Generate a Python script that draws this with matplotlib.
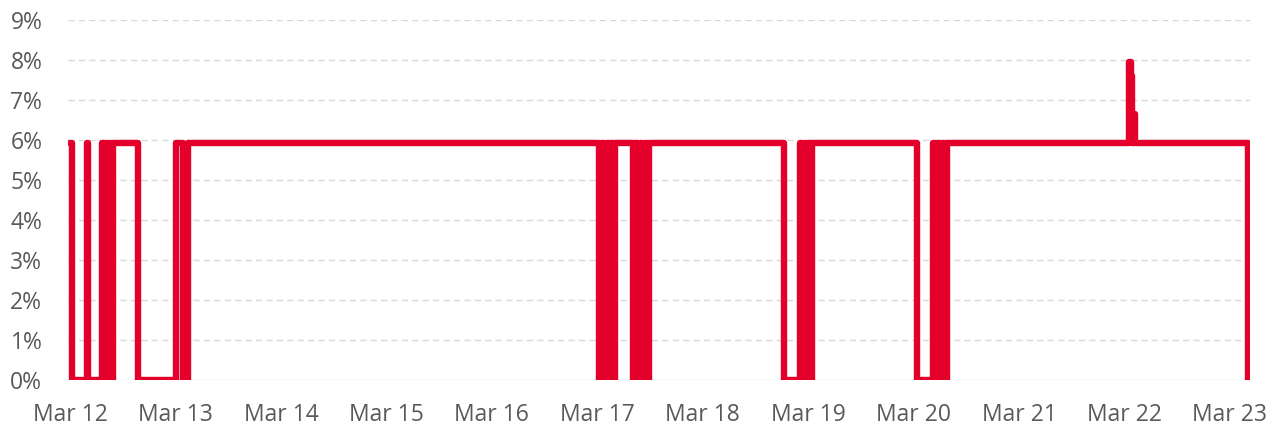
import matplotlib
matplotlib.use("Agg")
import matplotlib.pyplot as plt
import matplotlib.dates as mdates
import pandas as pd

# ---- data (step changes; value holds until next timestamp) ----
times = [
    "2023-03-12 00:00", "2023-03-12 00:27", "2023-03-12 03:52", "2023-03-12 04:00",
    "2023-03-12 07:16", "2023-03-12 07:45", "2023-03-12 08:10", "2023-03-12 08:35",
    "2023-03-12 09:00", "2023-03-12 09:20", "2023-03-12 09:45", "2023-03-12 15:29",
    "2023-03-13 00:00", "2023-03-13 01:43", "2023-03-13 02:51",
    "2023-03-17 00:24", "2023-03-17 01:00", "2023-03-17 01:30", "2023-03-17 02:05",
    "2023-03-17 02:35", "2023-03-17 03:05", "2023-03-17 03:35", "2023-03-17 04:02",
    "2023-03-17 08:08", "2023-03-17 08:40", "2023-03-17 09:15", "2023-03-17 09:45",
    "2023-03-17 10:15", "2023-03-17 10:50", "2023-03-17 11:20", "2023-03-17 11:47",
    "2023-03-18 18:30", "2023-03-18 22:09", "2023-03-18 22:40", "2023-03-18 23:10",
    "2023-03-18 23:40", "2023-03-19 00:15", "2023-03-19 00:35", "2023-03-19 00:52",
    "2023-03-20 00:46", "2023-03-20 04:25", "2023-03-20 04:55", "2023-03-20 05:25",
    "2023-03-20 05:55", "2023-03-20 06:25", "2023-03-20 06:55", "2023-03-20 07:36",
    "2023-03-22 01:02", "2023-03-22 01:30", "2023-03-22 01:45", "2023-03-22 02:05",
    "2023-03-22 02:25", "2023-03-23 04:05",
]
values = [
    5.93, 0.0, 5.93, 0.0,
    5.93, 0.0, 5.93, 0.0,
    5.93, 0.0, 5.93, 0.0,
    5.93, 0.0, 5.93,
    0.0, 5.93, 0.0, 5.93,
    0.0, 5.93, 0.0, 5.93,
    0.0, 5.93, 0.0, 5.93,
    0.0, 5.93, 0.0, 5.93,
    0.0, 5.93, 0.0, 5.93,
    0.0, 5.93, 0.0, 5.93,
    0.0, 5.93, 0.0, 5.93,
    0.0, 5.93, 0.0, 5.93,
    7.94, 7.60, 5.93, 6.65,
    5.93, 0.0,
]
tick_dates = ["2023-03-%02d" % d for d in range(12, 24)]
tick_labels = ["Mar %d" % d for d in range(12, 24)]
y_ticks = list(range(0, 10))
y_labels = ["%d%%" % v for v in y_ticks]

plt.rcParams["font.family"] = ["Open Sans", "DejaVu Sans"]

fig = plt.figure(figsize=(12.73, 4.25), dpi=100)
ax = fig.add_axes([68 / 1273, 45 / 425, (1250 - 68) / 1273, 360 / 425])

t = pd.to_datetime(times)
ax.plot(t, values, drawstyle="steps-post", color="#E4002B", lw=4.6,
        solid_capstyle="round", solid_joinstyle="round", zorder=3)

x0 = mdates.date2num(pd.Timestamp("2023-03-12"))
ax.set_xlim(x0 - 0.02, x0 + 11.19)
ax.set_ylim(0, 9)

ax.set_yticks(y_ticks)
ax.set_yticklabels(y_labels)
ax.set_xticks(pd.to_datetime(tick_dates))
ax.set_xticklabels(tick_labels)

for v in y_ticks[1:]:
    ax.axhline(v, color="#D9D9D9", lw=1.0, ls=(0, (4.5, 3)), zorder=1)
ax.axhline(0, color="#D9D9D9", lw=1.0, zorder=1)

for s in ax.spines.values():
    s.set_visible(False)
ax.tick_params(axis="both", length=0, colors="#595959", labelsize=16.5)
ax.tick_params(axis="y", pad=18.5)
ax.tick_params(axis="x", pad=16.5)

fig.savefig("out.png", dpi=100)
